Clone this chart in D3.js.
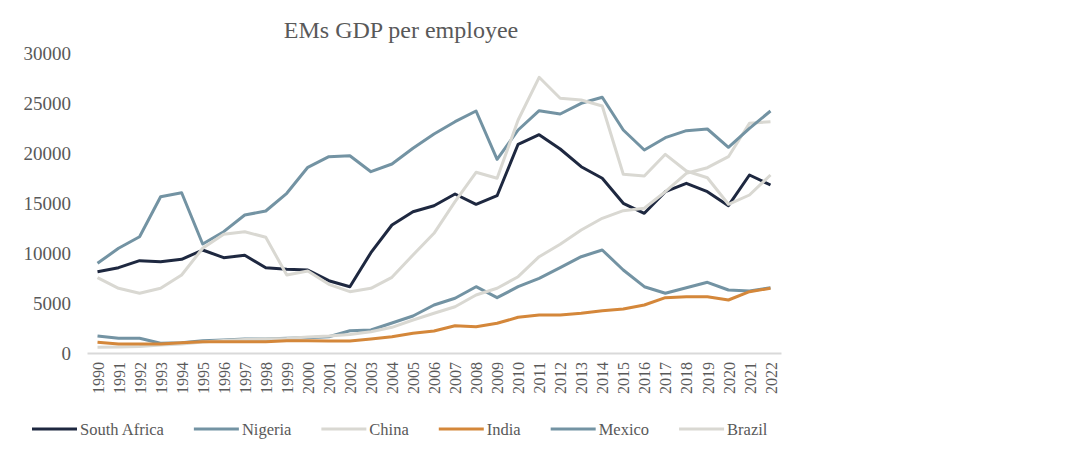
<!DOCTYPE html>
<html>
<head>
<meta charset="utf-8">
<script src="https://cdn.jsdelivr.net/npm/d3@7"></script>
<style>
    body { margin: 0; background: #ffffff; }
    text { font-family: "Liberation Serif", "Times New Roman", serif; fill: #595959; }
</style>
</head>
<body>
<div id="canvas"></div>
<script>
"use strict"

/* Data */
let years = ["1990", "1991", "1992", "1993", "1994", "1995", "1996", "1997", "1998", "1999",
             "2000", "2001", "2002", "2003", "2004", "2005", "2006", "2007", "2008", "2009",
             "2010", "2011", "2012", "2013", "2014", "2015", "2016", "2017", "2018", "2019",
             "2020", "2021", "2022"];

let southAfrica = [8130, 8530, 9230, 9130, 9370, 10300, 9530, 9770, 8530, 8370,
                   8300, 7230, 6630, 10030, 12800, 14130, 14730, 15900, 14870, 15730,
                   20870, 21830, 20400, 18630, 17470, 14970, 13970, 16130, 16970, 16130,
                   14730, 17800, 16800];

let nigeria = [1700, 1470, 1470, 970, 1030, 1230, 1300, 1400, 1400, 1470,
               1530, 1630, 2230, 2300, 3000, 3700, 4800, 5470, 6630, 5530,
               6630, 7470, 8530, 9630, 10300, 8300, 6630, 5970, 6530, 7070,
               6300, 6200, 6530];

let china = [570, 600, 650, 800, 900, 1100, 1250, 1350, 1400, 1450,
             1600, 1700, 1850, 2130, 2570, 3300, 3970, 4630, 5800, 6470,
             7630, 9630, 10870, 12300, 13470, 14230, 14470, 16130, 17970, 18530,
             19630, 22970, 23130];

let india = [1070, 900, 900, 900, 1030, 1130, 1130, 1130, 1130, 1230,
             1230, 1200, 1200, 1400, 1630, 1970, 2200, 2730, 2630, 2970,
             3570, 3800, 3800, 3970, 4230, 4400, 4800, 5530, 5630, 5630,
             5300, 6130, 6470];

let mexico = [8970, 10470, 11630, 15630, 16030, 10900, 12130, 13800, 14200, 15970,
              18570, 19630, 19730, 18130, 18900, 20470, 21900, 23130, 24200, 19370,
              22300, 24230, 23900, 24970, 25570, 22300, 20300, 21530, 22230, 22400,
              20570, 22470, 24200];

let brazil = [7530, 6470, 5970, 6470, 7800, 10470, 11870, 12130, 11570, 7800,
              8200, 6870, 6130, 6470, 7570, 9800, 11970, 15130, 18070, 17470,
              23300, 27570, 25470, 25300, 24700, 17870, 17700, 19870, 18200, 17530,
              14870, 15800, 17800];

let seriesNames = ["South Africa", "Nigeria", "China", "India", "Mexico", "Brazil"];
let seriesValues = [southAfrica, nigeria, china, india, mexico, brazil];
let seriesColors = ["#1e2840", "#7393a3", "#d9d8d2", "#d4873a", "#7393a3", "#d9d8d2"];

let yTicks = [0, 5000, 10000, 15000, 20000, 25000, 30000];

/* Layout */
let svgWidth = 1088;
let svgHeight = 450;

let svg = d3.select("#canvas")
    .append("svg")
    .attr("width", svgWidth)
    .attr("height", svgHeight);

let xScale = d3.scalePoint()
    .domain(years)
    .range([87, 781])
    .padding(0.5);

let yScale = d3.scaleLinear()
    .domain([0, 30000])
    .range([353, 53]);

// Title
svg.append("text")
    .attr("x", 401)
    .attr("y", 38)
    .attr("text-anchor", "middle")
    .style("font-size", "24px")
    .text("EMs GDP per employee");

// Y axis (labels only)
let yAxis = d3.axisLeft(yScale)
    .tickValues(yTicks)
    .tickSize(0)
    .tickPadding(0)
    .tickFormat(d3.format("d"));

let yAxisG = svg.append("g")
    .attr("transform", "translate(71, 0)")
    .call(yAxis);
yAxisG.select(".domain").remove();
yAxisG.selectAll("text")
    .attr("font-family", null)
    .attr("fill", null)
    .style("font-size", "19px");

// X axis
let xAxis = d3.axisBottom(xScale).tickSize(0).tickPadding(0);
let xAxisG = svg.append("g")
    .attr("transform", "translate(0, " + yScale(0) + ")")
    .call(xAxis);
xAxisG.select(".domain")
    .attr("stroke", "#d9d9d9")
    .attr("stroke-width", 2);
xAxisG.selectAll("text")
    .attr("font-family", null)
    .attr("fill", null)
    .style("font-size", "16px")
    .attr("text-anchor", "end")
    .attr("dy", "0.35em")
    .attr("transform", "translate(0, 9) rotate(-90)")
    .attr("y", 0)
    .attr("x", 0);

// Lines
let line = d3.line()
    .x(function(d, i) { return xScale(years[i]); })
    .y(function(d) { return yScale(d); });

for (let i = 0; i < seriesValues.length; i++) {
    svg.append("path")
        .datum(seriesValues[i])
        .attr("fill", "none")
        .attr("stroke", seriesColors[i])
        .attr("stroke-width", 3)
        .attr("stroke-linejoin", "round")
        .attr("d", line);
}

// Legend
let legendX = 32;
let legendY = 429;
for (let i = 0; i < seriesNames.length; i++) {
    svg.append("line")
        .attr("x1", legendX)
        .attr("x2", legendX + 45)
        .attr("y1", legendY)
        .attr("y2", legendY)
        .attr("stroke", seriesColors[i])
        .attr("stroke-width", 3);

    let label = svg.append("text")
        .attr("x", legendX + 48)
        .attr("y", legendY + 6)
        .style("font-size", "16.5px")
        .text(seriesNames[i]);

    legendX = legendX + 48 + label.node().getComputedTextLength() + 30;
}
</script>
</body>
</html>
